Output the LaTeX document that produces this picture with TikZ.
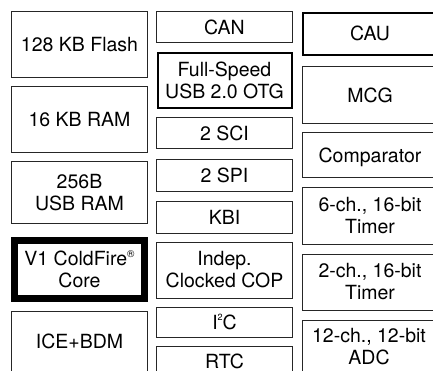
\documentclass[tikz,border=0pt]{standalone}
\usepackage{fontspec}
\setmainfont{TeX Gyre Heros}
\tikzset{
  blk/.style={draw=black!85, line width=1pt, inner sep=0pt, outer sep=0pt,
    font=\fontsize{19.5}{22}\selectfont, align=center, text=black},
  one/.style={text height=14pt, text depth=0pt},
  thick2/.style={line width=2pt, draw=black},
  core/.style={line width=7pt, draw=black},
  lbl/.style={inner sep=0pt, font=\fontsize{19.5}{22}\selectfont, align=center},
}
\newcommand\regmark{\raisebox{0.42em}{\fontsize{10}{10}\selectfont\textregistered}}
\newcommand\supii{\raisebox{0.42em}{\fontsize{9}{9}\selectfont 2}}
\begin{document}
\begin{tikzpicture}[x=1pt,y=-1pt]
\useasboundingbox (0,0) rectangle (433,371);
\clip (0,0) rectangle (433,371);
\fill[white] (0,0) rectangle (433,371);
% left column
\node[blk,one, minimum width=136pt, minimum height=66pt] (flash) at (79.5,45) {128 KB Flash};
\node[blk,one, minimum width=136pt, minimum height=66pt] (ram) at (79.5,120) {16 KB RAM};
\node[blk, minimum width=136pt, minimum height=61pt] (usbram) at (79.5,192.5) {256B\\USB RAM};
\node[blk,core, minimum width=130pt, minimum height=58pt] (cpu) at (79.5,269.5) {V1 ColdFire\regmark\\Core};
\draw[draw=black!85, line width=1pt] (11.5,311.5) rectangle (147.5,400);
\node[lbl,one] (ice) at (79.5,341) {ICE+BDM};
% middle column
\node[blk,one, minimum width=136pt, minimum height=31pt] (can) at (224.5,27.5) {CAN};
\node[blk,thick2, minimum width=134pt, minimum height=55pt] (otg) at (224.5,80.5) {Full-Speed\\USB 2.0 OTG};
\node[blk,one, minimum width=136pt, minimum height=31pt] (sci) at (224.5,133.5) {2 SCI};
\node[blk,one, minimum width=136pt, minimum height=32pt] (spi) at (224.5,175.5) {2 SPI};
\node[blk,one, minimum width=136pt, minimum height=31pt] (kbi) at (224.5,217.5) {KBI};
\node[blk, minimum width=136pt, minimum height=56pt] (cop) at (224.5,270) {Indep.\\Clocked COP};
\node[blk,one, minimum width=136pt, minimum height=30pt] (iic) at (224.5,322) {I\supii C};
\draw[draw=black!85, line width=1pt] (156.5,346.5) rectangle (292.5,400);
\node[lbl,one] (rtc) at (224.5,361) {RTC};
% right column
\node[blk,thick2,one, minimum width=134pt, minimum height=42pt] (cau) at (370,34) {CAU};
\node[blk,one, minimum width=136pt, minimum height=57pt] (mcg) at (370,95.5) {MCG};
\node[blk,one, minimum width=136pt, minimum height=45pt] (cmp) at (370,155.5) {Comparator};
\node[blk, minimum width=136pt, minimum height=56pt] (tpa) at (370,216) {6-ch., 16-bit\\Timer};
\node[blk, minimum width=136pt, minimum height=56pt] (tpb) at (370,282) {2-ch., 16-bit\\Timer};
\draw[draw=black!85, line width=1pt] (302,320.5) rectangle (438,400);
\node[lbl] (adc) at (369,347) {12-ch., 12-bit\\ADC};
\end{tikzpicture}
\end{document}
